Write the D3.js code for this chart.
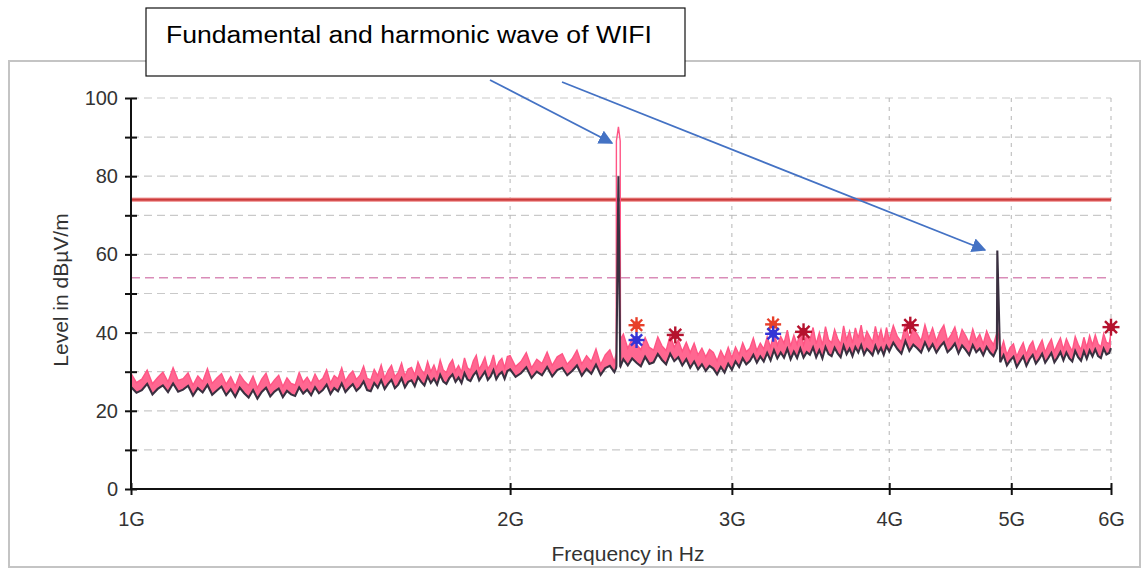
<!DOCTYPE html>
<html><head><meta charset="utf-8">
<script src="https://cdn.jsdelivr.net/npm/d3@7"></script>
<style>
html,body{margin:0;padding:0;background:#fff;}
svg{display:block;font-family:"Liberation Sans",Arial,sans-serif;}
</style></head>
<body>
<svg id="chart" width="1146" height="570"></svg>
<script>
// ---------- data ----------
const freqMHz = [
1000,1010,1020,1030,1040,1050,1060,1070,1080,1090,
1100,1110,1120,1130,1140,1150,1160,1170,1180,1190,
1200,1210,1220,1230,1240,1250,1260,1270,1280,1290,
1300,1310,1320,1330,1340,1350,1360,1370,1380,1390,
1400,1410,1420,1430,1440,1450,1460,1470,1480,1490,
1500,1510,1520,1530,1540,1550,1560,1570,1580,1590,
1600,1610,1620,1630,1640,1650,1660,1670,1680,1690,
1700,1710,1720,1730,1740,1750,1760,1770,1780,1790,
1800,1810,1820,1830,1840,1850,1860,1870,1880,1890,
1900,1910,1920,1930,1940,1950,1960,1970,1980,1990,
2000,2020,2040,2060,2080,2100,2120,2140,2160,2180,
2200,2220,2240,2260,2280,2300,2320,2340,2360,2380,
2400,2420,2428,2429,2438,2446,2447,
2460,2480,2500,2520,2540,2560,2580,
2600,2620,2640,2660,2680,2700,2720,2740,2760,2780,
2800,2820,2840,2860,2880,2900,2920,2940,2960,2980,
3000,3020,3040,3060,3080,3100,3120,3140,3160,3180,
3200,3220,3240,3260,3280,3300,3320,3340,3360,3380,
3400,3420,3440,3460,3480,3500,3520,3540,3560,3580,
3600,3620,3640,3660,3680,3700,3720,3740,3760,3780,
3800,3820,3840,3860,3880,3900,3920,3940,3960,3980,
4000,4030,4060,4090,4120,4150,4180,4210,4240,4270,
4300,4330,4360,4390,4420,4450,4480,4510,4540,4570,
4600,4630,4660,4690,4720,4750,4780,4810,4840,4870,
4874,
4900,4930,4960,4990,5020,5050,5080,5110,5140,5170,
5200,5230,5260,5290,5320,5350,5380,5410,5440,5470,
5500,5530,5560,5590,5620,5650,5680,5710,5740,5770,
5800,5830,5860,5890,5920,5950,5980,
6000];

// peak trace (pink), dBµV/m
const peakLevels = [
29.6,27.2,28.1,30.4,26.9,28.5,29.9,27.4,31.0,27.8,
28.2,29.7,26.6,28.9,27.5,30.8,27.0,28.4,29.5,26.8,
28.7,26.3,29.3,27.6,26.5,28.9,25.9,28.1,29.6,26.4,
27.9,29.1,26.2,28.4,27.0,26.6,29.8,27.3,28.6,26.9,
29.4,27.5,28.3,30.5,27.1,29.0,28.2,31.0,27.6,29.2,
30.2,28.0,29.1,31.4,28.3,27.9,30.6,29.0,31.7,28.4,
30.3,31.6,28.7,29.8,32.2,28.9,30.7,31.1,29.2,32.5,
30.5,29.4,32.6,30.0,31.7,29.5,33.0,30.4,29.8,31.9,
33.1,30.2,31.6,29.9,33.5,31.0,30.4,32.8,34.2,30.6,
32.0,33.7,30.7,31.9,34.3,30.9,32.6,33.4,31.0,33.9,
34.1,31.3,32.6,34.9,31.0,33.2,32.1,35.0,31.6,33.8,
34.6,31.9,33.3,35.5,32.0,34.1,32.6,35.8,31.8,34.3,
35.6,32.4,34.8,89.0,92.6,89.0,38.2,
39.6,36.0,38.4,37.0,35.6,38.7,36.2,
35.5,38.9,36.6,35.4,39.3,36.3,38.1,35.2,37.5,34.9,
37.3,34.3,36.0,33.8,35.7,34.9,32.8,35.4,33.5,36.2,
33.6,36.3,34.4,37.4,35.1,36.0,38.6,35.4,37.3,35.8,
38.9,36.2,40.1,36.8,39.0,37.3,40.6,36.5,39.3,37.0,
40.7,36.9,39.4,38.0,41.3,37.1,40.0,36.8,41.5,38.2,
37.4,40.8,38.5,37.0,41.7,38.2,40.4,37.3,41.2,38.6,
41.9,37.8,40.3,38.9,37.5,41.6,38.4,40.8,37.6,41.3,
38.1,41.8,39.0,37.6,42.3,38.4,41.0,39.6,37.9,42.0,
38.6,41.2,37.8,40.3,41.9,38.0,39.5,41.4,37.7,40.8,
39.2,37.3,40.9,38.0,39.6,37.1,40.4,38.3,36.9,40.0,
42.0,
35.0,37.8,34.3,36.2,37.1,33.9,35.8,37.4,34.4,36.6,
37.8,34.8,36.5,38.1,35.0,36.9,38.3,35.2,37.0,38.6,
35.7,38.4,36.6,35.3,39.0,37.0,35.6,38.8,36.2,39.2,
36.8,39.4,37.1,36.3,39.7,37.5,37.2,
39.9];

// average trace (dark), dBµV/m
const avgLevels = [
26.1,24.6,25.3,26.9,24.2,25.6,26.5,24.8,27.0,24.9,
25.4,26.4,23.9,25.8,24.7,26.6,24.1,25.2,26.2,24.0,
25.5,23.6,25.9,24.5,23.4,25.3,23.1,24.8,25.9,23.7,
24.9,25.7,23.5,25.1,24.2,23.8,26.0,24.4,25.4,24.0,
26.0,24.5,25.3,26.7,24.3,25.8,25.0,27.0,24.8,25.9,
26.8,25.1,26.0,27.5,25.3,25.0,27.1,25.9,27.8,25.6,
26.9,27.9,25.8,26.7,28.3,26.0,27.4,27.8,26.3,28.6,
27.4,26.5,28.8,27.1,28.2,26.7,29.2,27.5,26.9,28.4,
29.3,27.4,28.5,27.1,29.6,28.0,27.6,29.1,30.0,27.8,
28.9,30.0,27.9,28.8,30.4,28.1,29.3,29.9,28.2,30.2,
30.6,28.7,29.6,31.1,28.4,30.0,29.1,31.2,28.8,30.4,
31.0,29.1,30.2,31.6,29.0,30.7,29.5,31.8,29.2,30.9,
31.5,29.9,31.0,31.6,80.0,31.4,31.3,
33.2,31.6,33.4,32.3,31.4,33.8,32.0,
32.4,34.5,33.0,31.9,34.6,32.7,33.7,31.6,33.2,31.0,
32.6,30.6,31.9,30.2,31.5,30.8,29.3,31.2,29.8,32.0,
30.5,32.6,31.2,33.4,31.9,32.7,34.3,32.3,33.9,32.6,
34.8,32.9,35.5,33.4,34.9,33.6,35.8,33.2,35.1,33.5,
35.9,33.6,35.0,34.3,36.2,33.7,35.5,33.4,36.3,34.5,
34.0,36.1,34.7,33.7,36.6,34.5,35.9,34.0,36.3,34.9,
36.8,34.4,35.8,35.1,34.2,36.6,34.8,36.1,34.3,36.5,
35.2,37.4,35.8,34.6,37.8,35.3,36.9,36.0,34.9,37.5,
35.4,37.0,34.9,36.4,37.5,35.0,35.9,37.2,34.7,36.7,
35.6,34.3,36.8,35.0,35.9,34.2,36.3,34.9,34.0,35.9,
61.0,
32.4,34.2,31.6,32.9,33.8,31.2,32.6,33.9,31.5,33.2,
34.3,32.1,33.2,34.6,32.3,33.5,34.8,32.4,33.6,35.0,
32.9,34.9,33.4,32.6,35.3,33.7,32.8,35.2,33.3,35.4,
33.9,35.7,34.0,33.5,35.9,34.4,34.8,
36.0];

// limit lines
const limitPeak = 74;
const limitAvg = 54;

// final measurement markers (GHz, dBµV/m)
const peakMarkFreq = [2.52, 3.235];
const peakMarkLevel = [41.9, 42.1];
const avgMarkFreq = [2.52, 3.235];
const avgMarkLevel = [38.1, 39.7];
const redMarkFreq = [2.705, 3.42, 4.157, 6.0];
const redMarkLevel = [39.4, 40.2, 41.9, 41.4];

// axis ticks
const yTicks = [0,10,20,30,40,50,60,70,80,90,100];
const yLabelTicks = [0,20,40,60,80,100];
const xTicks = [1e9,2e9,3e9,4e9,5e9,6e9];
const xTickLabels = ["1G","2G","3G","4G","5G","6G"];
const yTitle = "Level in dBµV/m";
const xTitle = "Frequency in Hz";
const noteText = "Fundamental and harmonic wave of WIFI";

// ---------- drawing ----------
const svg = d3.select("#chart");
const x = d3.scaleLog().domain([1e9, 6e9]).range([131, 1111]);
const y = d3.scaleLinear().domain([0, 100]).range([489, 98]);

// outer frame
svg.append("rect").attr("x", 9).attr("y", 61).attr("width", 1131).attr("height", 506)
  .attr("fill", "#fff").attr("stroke", "#c4c4c4").attr("stroke-width", 2);

// grid
const grid = svg.append("g");
grid.selectAll("line.h").data(yTicks.filter(d => d > 0)).join("line")
  .attr("x1", x(1e9)).attr("x2", x(6e9))
  .attr("y1", d => y(d)).attr("y2", d => y(d))
  .attr("stroke", "#c9c9c9").attr("stroke-width", 1.2).attr("stroke-dasharray", "8,5");
grid.selectAll("line.v").data(xTicks.slice(1)).join("line")
  .attr("x1", d => x(d)).attr("x2", d => x(d))
  .attr("y1", y(100)).attr("y2", y(0))
  .attr("stroke", "#b5b5b5").attr("stroke-width", 1).attr("stroke-dasharray", "4,5");

// limit lines
svg.append("line").attr("x1", x(1e9)).attr("x2", x(6e9))
  .attr("y1", y(limitAvg)).attr("y2", y(limitAvg))
  .attr("stroke", "#d98cb8").attr("stroke-width", 1.5).attr("stroke-dasharray", "9,5");
svg.append("line").attr("x1", x(1e9)).attr("x2", x(6e9))
  .attr("y1", y(limitPeak)).attr("y2", y(limitPeak))
  .attr("stroke", "#f2a3a3").attr("stroke-width", 4.5);
svg.append("line").attr("x1", x(1e9)).attr("x2", x(6e9))
  .attr("y1", y(limitPeak)).attr("y2", y(limitPeak))
  .attr("stroke", "#cc3a3a").attr("stroke-width", 2.2);

// traces
const rows = freqMHz.map((f, i) => ({f: f * 1e6, pk: peakLevels[i], av: avgLevels[i]}));
const band = d3.area().defined(d => d.pk < 60 && d.av < 60)
  .x(d => x(d.f)).y0(d => y(d.av)).y1(d => y(d.pk));
svg.append("path").datum(rows).attr("d", band)
  .attr("fill", "#ff6791");
const pkLine = d3.line().x(d => x(d.f)).y(d => y(d.pk));
const avLine = d3.line().x(d => x(d.f)).y(d => y(d.av));
svg.append("path").datum(rows).attr("d", pkLine)
  .attr("fill", "none").attr("stroke", "#ff5585").attr("stroke-width", 1.4);
svg.append("path").datum(rows).attr("d", avLine)
  .attr("fill", "none").attr("stroke", "#3a3040").attr("stroke-width", 2.1);

// markers
function asterisk(g, cx, cy, color, r) {
  const m = g.append("g").attr("transform", `translate(${cx},${cy})`);
  [0, 45, 90, 135].forEach(a => {
    const rad = a * Math.PI / 180;
    m.append("line")
      .attr("x1", -r * Math.cos(rad)).attr("y1", -r * Math.sin(rad))
      .attr("x2", r * Math.cos(rad)).attr("y2", r * Math.sin(rad))
      .attr("stroke", color).attr("stroke-width", 2.4);
  });
  m.append("circle").attr("r", 4).attr("fill", color);
}
const mk = svg.append("g");
peakMarkFreq.forEach((f, i) => asterisk(mk, x(f * 1e9), y(peakMarkLevel[i]), "#e8402a", 8));
avgMarkFreq.forEach((f, i) => asterisk(mk, x(f * 1e9), y(avgMarkLevel[i]), "#3434d6", 8));
redMarkFreq.forEach((f, i) => asterisk(mk, x(f * 1e9), y(redMarkLevel[i]), "#b5122e", 8.5));

// axes
const yAxis = d3.axisLeft(y).tickValues(yTicks).tickSize(6).tickPadding(7)
  .tickFormat(d => yLabelTicks.includes(d) ? String(d) : "");
const gy = svg.append("g").attr("transform", `translate(${x(1e9)},0)`).call(yAxis);
gy.selectAll(".tick line").attr("x1", 6).attr("stroke", "#111").attr("stroke-width", 2);
gy.select(".domain").attr("stroke", "#111").attr("stroke-width", 2).attr("d", `M0,${y(100)}V${y(0)}`);
gy.selectAll("text").attr("font-size", 20).attr("fill", "#333")
  .attr("font-family", "'Liberation Sans',Arial,sans-serif");

const xAxis = d3.axisBottom(x).tickValues(xTicks).tickSize(6).tickPadding(17)
  .tickFormat((d, i) => xTickLabels[i]);
const gx = svg.append("g").attr("transform", `translate(0,${y(0)})`).call(xAxis);
gx.selectAll(".tick line").attr("y1", -6).attr("stroke", "#111").attr("stroke-width", 2);
gx.select(".domain").attr("stroke", "#111").attr("stroke-width", 2).attr("d", `M${x(1e9)},0H${x(6e9)}`);
gx.selectAll("text").attr("font-size", 20).attr("fill", "#333")
  .attr("font-family", "'Liberation Sans',Arial,sans-serif");

// titles
svg.append("text").attr("transform", "translate(68,290) rotate(-90)")
  .attr("text-anchor", "middle").attr("font-size", 21).attr("fill", "#333").text(yTitle);
svg.append("text").attr("x", 628).attr("y", 561)
  .attr("text-anchor", "middle").attr("font-size", 21).attr("fill", "#333").text(xTitle);

// annotation box
svg.append("rect").attr("x", 146).attr("y", 8).attr("width", 539).attr("height", 68)
  .attr("fill", "#fff").attr("stroke", "#111").attr("stroke-width", 1.2);
svg.append("text").attr("x", 166).attr("y", 43).attr("font-size", 23).attr("fill", "#000")
  .attr("textLength", 486).attr("lengthAdjust", "spacingAndGlyphs").text(noteText);

// arrows
const defs = svg.append("defs");
defs.append("marker").attr("id", "ah").attr("viewBox", "0 0 10 10")
  .attr("refX", 9).attr("refY", 5).attr("markerWidth", 8).attr("markerHeight", 8)
  .attr("markerUnits", "strokeWidth").attr("orient", "auto")
  .append("path").attr("d", "M0,0L10,5L0,10Z").attr("fill", "#4472c4");
const arrows = [[490, 80, 612, 143], [562, 82, 985, 250]];
svg.selectAll("line.arrow").data(arrows).join("line").attr("class", "arrow")
  .attr("x1", d => d[0]).attr("y1", d => d[1]).attr("x2", d => d[2]).attr("y2", d => d[3])
  .attr("stroke", "#4472c4").attr("stroke-width", 1.8).attr("marker-end", "url(#ah)");
</script>
</body></html>
